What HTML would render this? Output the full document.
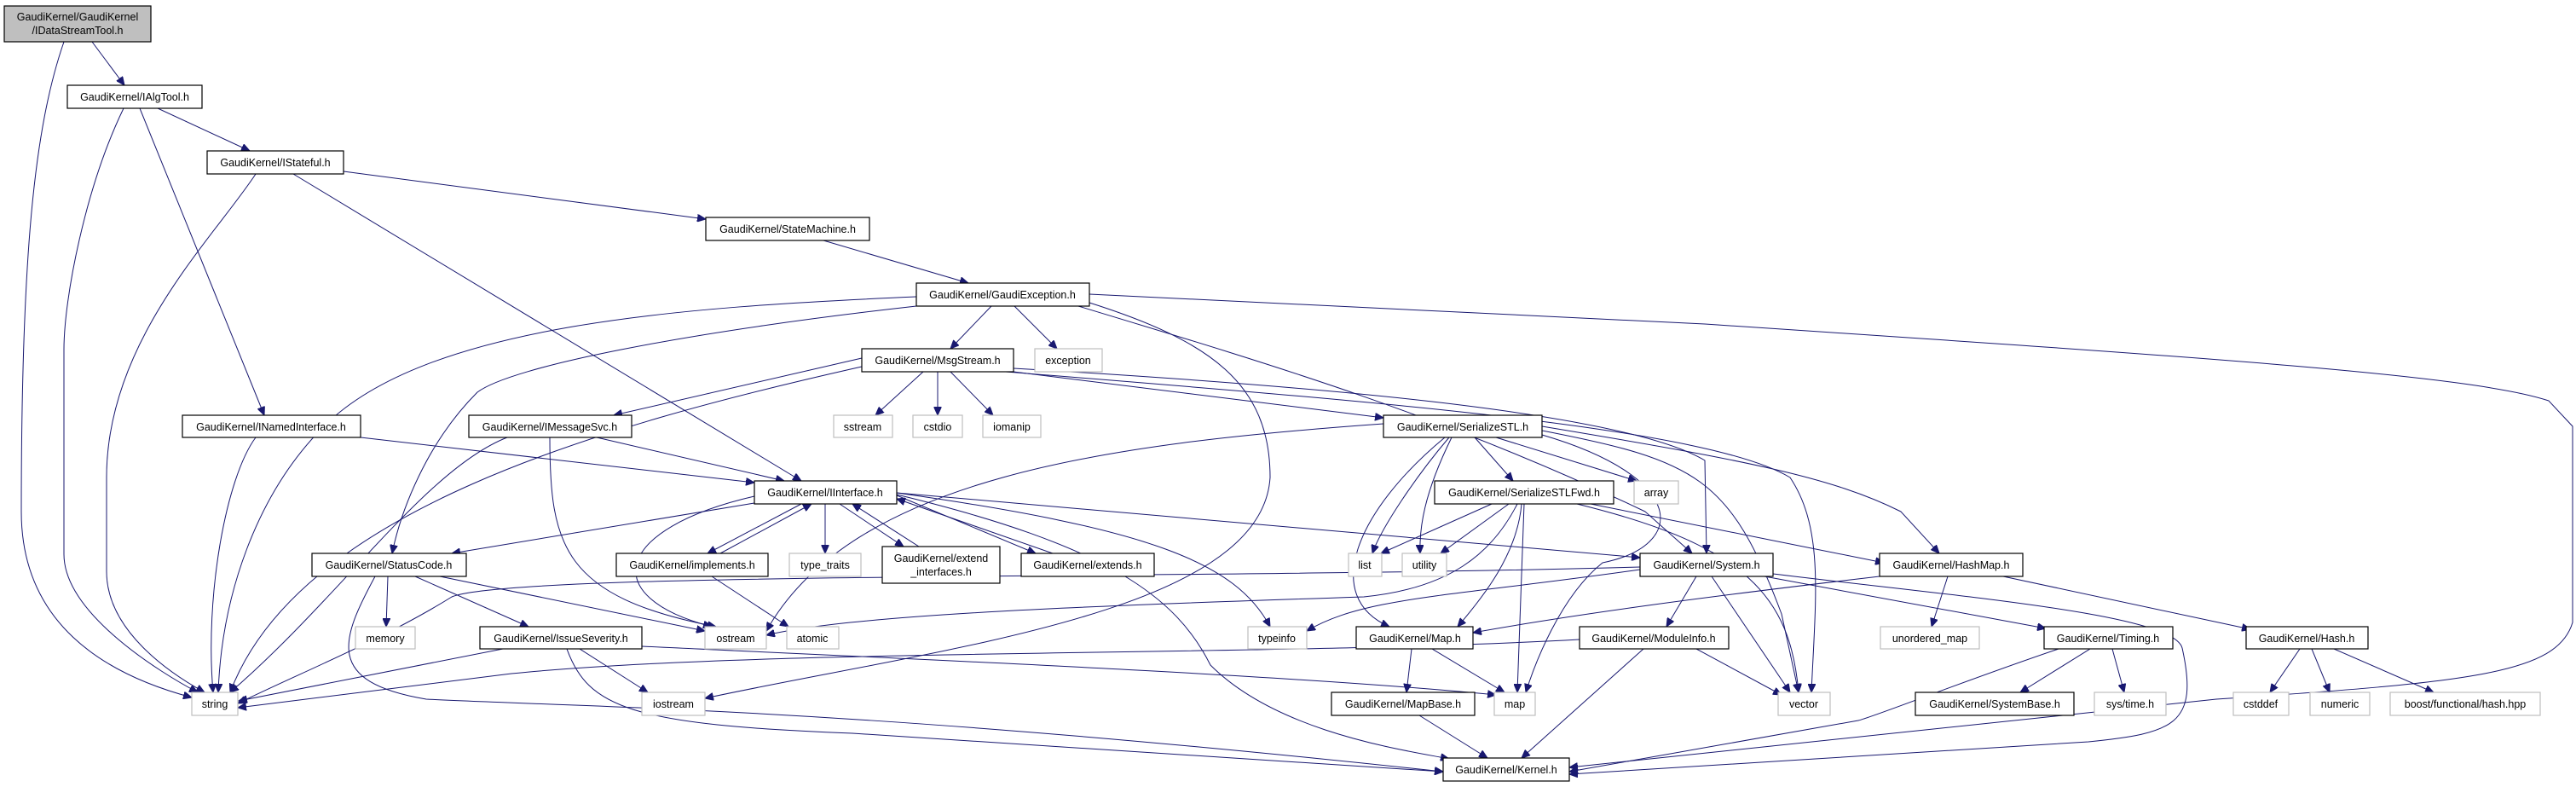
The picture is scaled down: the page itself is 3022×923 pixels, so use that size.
<!DOCTYPE html>
<html><head><meta charset="utf-8"><style>
html,body{margin:0;padding:0;background:#fff;}
svg{display:block;}
text{font-family:"Liberation Sans",Helvetica,sans-serif;font-size:12.5px;fill:#000;}
.n{fill:#fff;stroke:#000;stroke-width:1.2;}
.g{fill:#fff;stroke:#bfbfbf;stroke-width:1.2;}
.e{fill:none;stroke:#191970;stroke-width:1;marker-end:url(#a);}
</style></head><body>
<svg width="3022" height="923" viewBox="0 0 3022 923" xmlns="http://www.w3.org/2000/svg">
<defs><marker id="a" markerWidth="11" markerHeight="9" refX="10" refY="4.5" orient="auto" markerUnits="userSpaceOnUse"><path d="M0,0 L10,4.5 L0,9 z" fill="#191970" stroke="#191970"/></marker></defs>
<g>
<path class="e" d="M75,49 C40,150 25,300 25,600 C25,730 120,790 225,818"/>
<path class="e" d="M108,49 L146,100"/>
<path class="e" d="M145,127 C100,220 75,350 75,410 L75,650 C75,720 190,790 232,812"/>
<path class="e" d="M164,127 L310,487"/>
<path class="e" d="M185,127 L293,177"/>
<path class="e" d="M300,204 C250,280 125,400 125,560 L125,670 C125,740 200,790 240,812"/>
<path class="e" d="M344,204 L940,564"/>
<path class="e" d="M403,201 L828,257"/>
<path class="e" d="M966,282 L1136,332"/>
<path class="e" d="M1075,348 C800,360 500,380 380,500 C300,580 260,700 256,812"/>
<path class="e" d="M1075,359 C800,390 600,430 560,460 C500,520 470,600 460,649"/>
<path class="e" d="M1163,359 L1115,409"/>
<path class="e" d="M1190,359 L1240,409"/>
<path class="e" d="M1278,355 C1420,400 1490,450 1490,560 C1480,720 1100,760 827,819"/>
<path class="e" d="M1265,359 C1500,430 1700,490 1930,600 L1985,649"/>
<path class="e" d="M1278,345 L2000,380 C2600,420 2900,440 2990,470 L3018,500 L3018,730 C3000,790 2900,800 2600,820 L1841,900"/>
<path class="e" d="M1011,420 L720,487"/>
<path class="e" d="M1011,430 C700,500 350,600 270,812"/>
<path class="e" d="M1083,436 L1027,487"/>
<path class="e" d="M1100,436 L1100,487"/>
<path class="e" d="M1115,436 L1165,487"/>
<path class="e" d="M1189,436 L1623,490"/>
<path class="e" d="M1189,432 C1500,450 1900,480 2000,540 L2002,649"/>
<path class="e" d="M1180,436 C1600,470 2000,500 2100,560 C2140,620 2130,700 2125,812"/>
<path class="e" d="M300,513 C265,560 240,700 250,812"/>
<path class="e" d="M423,513 L885,566"/>
<path class="e" d="M595,513 C500,550 400,700 270,812"/>
<path class="e" d="M700,513 L920,564"/>
<path class="e" d="M645,513 C645,640 660,700 840,735"/>
<path class="e" d="M885,590 L530,649"/>
<path class="e" d="M940,591 L830,649"/>
<path class="e" d="M845,649 L952,591"/>
<path class="e" d="M968,591 L968,649"/>
<path class="e" d="M985,591 L1060,641"/>
<path class="e" d="M1078,641 L1000,591"/>
<path class="e" d="M1052,581 L1215,649"/>
<path class="e" d="M1235,649 L1052,585"/>
<path class="e" d="M885,582 C720,620 700,700 835,735"/>
<path class="e" d="M1052,578 C1350,620 1450,660 1490,735"/>
<path class="e" d="M1052,580 C1300,640 1380,700 1420,780 C1500,860 1650,880 1700,890"/>
<path class="e" d="M1052,578 L1924,654"/>
<path class="e" d="M835,676 L925,735"/>
<path class="e" d="M455,676 L453,735"/>
<path class="e" d="M487,676 L620,735"/>
<path class="e" d="M516,676 L827,740"/>
<path class="e" d="M440,676 C400,750 380,800 500,820 C700,830 1000,830 1693,905"/>
<path class="e" d="M590,761 L280,822"/>
<path class="e" d="M680,761 L760,812"/>
<path class="e" d="M665,761 C690,830 740,850 1000,860 L1693,905"/>
<path class="e" d="M753,758 C1000,770 1500,790 1755,815"/>
<path class="e" d="M1623,497 C1300,520 1000,560 899,740"/>
<path class="e" d="M1730,513 L1775,564"/>
<path class="e" d="M1755,513 L1920,564"/>
<path class="e" d="M1700,513 C1660,560 1620,620 1610,649"/>
<path class="e" d="M1703,513 C1670,580 1665,620 1666,649"/>
<path class="e" d="M1695,513 C1590,600 1550,700 1630,735"/>
<path class="e" d="M1809,510 C1980,560 1980,640 1880,660 C1830,700 1800,780 1790,812"/>
<path class="e" d="M1809,505 C1990,540 2030,560 2090,720 L2110,812"/>
<path class="e" d="M1809,500 C2050,540 2150,560 2230,600 L2275,649"/>
<path class="e" d="M1750,591 L1620,649"/>
<path class="e" d="M1770,591 L1690,649"/>
<path class="e" d="M1785,591 C1780,650 1740,700 1710,735"/>
<path class="e" d="M1788,591 L1780,812"/>
<path class="e" d="M1850,591 C2050,640 2100,700 2110,812"/>
<path class="e" d="M1866,591 L2210,660"/>
<path class="e" d="M1780,591 C1750,650 1700,690 1600,700 C1300,710 1000,720 899,745"/>
<path class="e" d="M1924,665 C1400,680 600,670 530,700 C450,750 350,790 279,825"/>
<path class="e" d="M1924,668 C1700,700 1600,700 1533,740"/>
<path class="e" d="M1990,676 L1955,735"/>
<path class="e" d="M2008,676 L2100,812"/>
<path class="e" d="M2070,676 L2400,737"/>
<path class="e" d="M2080,673 C2300,700 2550,720 2560,760 C2580,850 2550,860 2450,870 L1841,908"/>
<path class="e" d="M2205,676 C2000,700 1850,720 1728,742"/>
<path class="e" d="M2285,676 L2266,735"/>
<path class="e" d="M2350,676 L2640,738"/>
<path class="e" d="M1656,761 L1650,812"/>
<path class="e" d="M1680,761 L1765,812"/>
<path class="e" d="M1665,839 L1745,889"/>
<path class="e" d="M1853,750 C1500,770 900,760 600,790 L279,830"/>
<path class="e" d="M1990,761 L2090,815"/>
<path class="e" d="M1928,761 L1785,889"/>
<path class="e" d="M2452,761 L2370,812"/>
<path class="e" d="M2478,761 L2492,812"/>
<path class="e" d="M2415,761 C2300,800 2200,840 2180,845 L1841,905"/>
<path class="e" d="M2698,761 L2663,812"/>
<path class="e" d="M2712,761 L2733,812"/>
<path class="e" d="M2738,761 L2855,812"/>
</g>
<g text-anchor="middle">
<rect x="5" y="7" width="172" height="42" fill="#bfbfbf" stroke="#000" stroke-width="1.2"/>
<text x="91" y="24">GaudiKernel/GaudiKernel</text><text x="91" y="40">/IDataStreamTool.h</text>
<rect class="n" x="79" y="100" width="158" height="27"/><text x="158" y="118">GaudiKernel/IAlgTool.h</text>
<rect class="n" x="243" y="177" width="160" height="27"/><text x="323" y="195">GaudiKernel/IStateful.h</text>
<rect class="n" x="828" y="255" width="192" height="27"/><text x="924" y="273">GaudiKernel/StateMachine.h</text>
<rect class="n" x="1075" y="332" width="203" height="27"/><text x="1176" y="350">GaudiKernel/GaudiException.h</text>
<rect class="n" x="1011" y="409" width="178" height="27"/><text x="1100" y="427">GaudiKernel/MsgStream.h</text>
<rect class="g" x="1214" y="409" width="79" height="27"/><text x="1253" y="427">exception</text>
<rect class="g" x="978" y="487" width="69" height="26"/><text x="1012" y="505">sstream</text>
<rect class="g" x="1071" y="487" width="58" height="26"/><text x="1100" y="505">cstdio</text>
<rect class="g" x="1153" y="487" width="68" height="26"/><text x="1187" y="505">iomanip</text>
<rect class="n" x="1623" y="487" width="186" height="26"/><text x="1716" y="505">GaudiKernel/SerializeSTL.h</text>
<rect class="n" x="1683" y="564" width="210" height="27"/><text x="1788" y="582">GaudiKernel/SerializeSTLFwd.h</text>
<rect class="g" x="1917" y="564" width="52" height="27"/><text x="1943" y="582">array</text>
<rect class="n" x="214" y="487" width="209" height="26"/><text x="318" y="505">GaudiKernel/INamedInterface.h</text>
<rect class="n" x="550" y="487" width="191" height="26"/><text x="645" y="505">GaudiKernel/IMessageSvc.h</text>
<rect class="n" x="885" y="564" width="167" height="27"/><text x="968" y="582">GaudiKernel/IInterface.h</text>
<rect class="n" x="366" y="649" width="181" height="27"/><text x="456" y="667">GaudiKernel/StatusCode.h</text>
<rect class="n" x="723" y="649" width="178" height="27"/><text x="812" y="667">GaudiKernel/implements.h</text>
<rect class="g" x="926" y="649" width="84" height="27"/><text x="968" y="667">type_traits</text>
<rect class="n" x="1035" y="641" width="138" height="43"/><text x="1104" y="659">GaudiKernel/extend</text><text x="1104" y="675">_interfaces.h</text>
<rect class="n" x="1198" y="649" width="156" height="27"/><text x="1276" y="667">GaudiKernel/extends.h</text>
<rect class="g" x="1582" y="649" width="39" height="27"/><text x="1601" y="667">list</text>
<rect class="g" x="1645" y="649" width="52" height="27"/><text x="1671" y="667">utility</text>
<rect class="n" x="1924" y="649" width="156" height="27"/><text x="2002" y="667">GaudiKernel/System.h</text>
<rect class="n" x="2205" y="649" width="168" height="27"/><text x="2289" y="667">GaudiKernel/HashMap.h</text>
<rect class="g" x="417" y="735" width="70" height="26"/><text x="452" y="753">memory</text>
<rect class="n" x="563" y="735" width="190" height="26"/><text x="658" y="753">GaudiKernel/IssueSeverity.h</text>
<rect class="g" x="827" y="735" width="72" height="26"/><text x="863" y="753">ostream</text>
<rect class="g" x="923" y="735" width="61" height="26"/><text x="953" y="753">atomic</text>
<rect class="g" x="1464" y="735" width="69" height="26"/><text x="1498" y="753">typeinfo</text>
<rect class="n" x="1591" y="735" width="137" height="26"/><text x="1660" y="753">GaudiKernel/Map.h</text>
<rect class="n" x="1853" y="735" width="175" height="26"/><text x="1940" y="753">GaudiKernel/ModuleInfo.h</text>
<rect class="g" x="2206" y="735" width="116" height="26"/><text x="2264" y="753">unordered_map</text>
<rect class="n" x="2398" y="735" width="151" height="26"/><text x="2473" y="753">GaudiKernel/Timing.h</text>
<rect class="n" x="2635" y="735" width="143" height="26"/><text x="2706" y="753">GaudiKernel/Hash.h</text>
<rect class="g" x="225" y="812" width="54" height="27"/><text x="252" y="830">string</text>
<rect class="g" x="753" y="812" width="74" height="27"/><text x="790" y="830">iostream</text>
<rect class="n" x="1562" y="812" width="168" height="27"/><text x="1646" y="830">GaudiKernel/MapBase.h</text>
<rect class="g" x="1753" y="812" width="48" height="27"/><text x="1777" y="830">map</text>
<rect class="g" x="2086" y="812" width="61" height="27"/><text x="2116" y="830">vector</text>
<rect class="n" x="2247" y="812" width="186" height="27"/><text x="2340" y="830">GaudiKernel/SystemBase.h</text>
<rect class="g" x="2457" y="812" width="84" height="27"/><text x="2499" y="830">sys/time.h</text>
<rect class="g" x="2620" y="812" width="65" height="27"/><text x="2652" y="830">cstddef</text>
<rect class="g" x="2710" y="812" width="70" height="27"/><text x="2745" y="830">numeric</text>
<rect class="g" x="2804" y="812" width="176" height="27"/><text x="2892" y="830">boost/functional/hash.hpp</text>
<rect class="n" x="1693" y="889" width="148" height="27"/><text x="1767" y="907">GaudiKernel/Kernel.h</text>
</g>
</svg>
</body></html>
